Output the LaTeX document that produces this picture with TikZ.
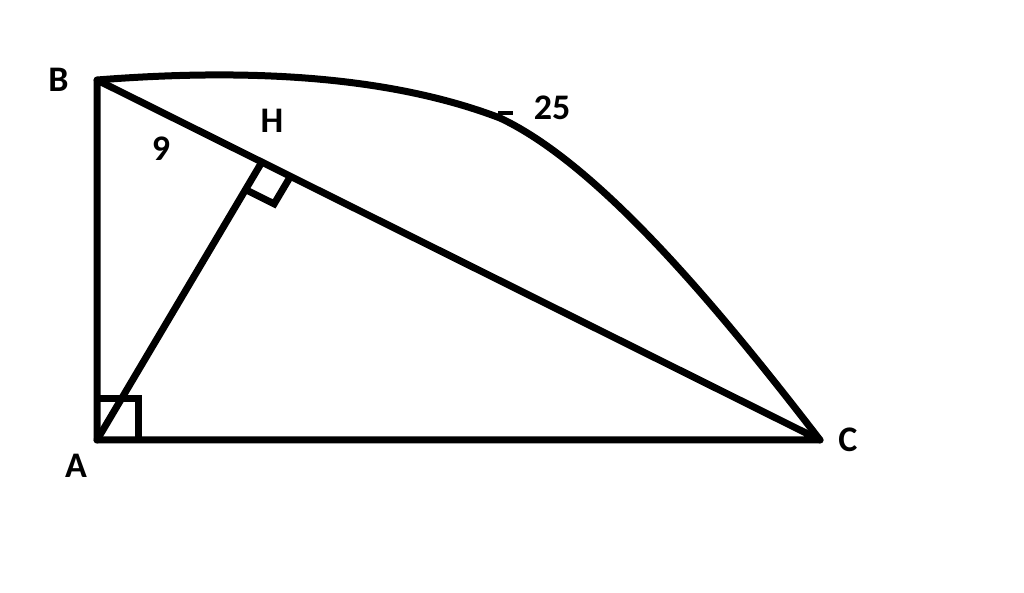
\documentclass[tikz,border=0pt]{standalone}
\usepackage{fontspec}
\setmainfont{Carlito}
\usetikzlibrary{positioning, calc}

\begin{document}
\begin{tikzpicture}[x=0.5pt, y=-0.5pt,
    lado/.style={line width=3.5pt, line cap=round, line join=round},
    marca/.style={line width=3.5pt, line join=miter},
    etiqueta/.style={font=\bfseries\fontsize{18}{20}\selectfont, inner sep=0pt}]
    \useasboundingbox (0,0) rectangle (1024,593);

    % puntos
    \coordinate (B) at (97,80);
    \coordinate (A) at (97,440);
    \coordinate (C) at (820,440);
    \coordinate (H) at ($(B)!0.228!(C)$);
    \coordinate (M) at (500,118);

    % lados
    \draw [lado] (A) -- (B) -- (C) -- cycle;
    \draw [lado] (A) -- (H);
    \draw [lado] (B) .. controls (250,68) and (390,76) .. (M)
                     .. controls (600,165) and (720,310) .. (C);
    \draw [line width=2pt] (M) ++(-2,-5) -- ++(15,0);

    % angulos rectos
    \draw [marca] ($(A)+(0,-41)$) -- ++(41,0) -- ++(0,41);
    \draw [marca] ($(H)!16pt!(A)$) -- ($(H)!16pt!(A)+(H)!16pt!(C)-(H)$) -- ($(H)!16pt!(C)$);

    % etiquetas
    \node [etiqueta, left=14pt of B] (lB) {B};
    \node [etiqueta] (lH) at (272,121) {H};
    \node [etiqueta] (l9) at (161,149) {9};
    \node [etiqueta] (l25) at (552,108) {25};
    \node [etiqueta] (lA) at (76,466) {A};
    \node [etiqueta, right=9pt of C] (lC) {C};
\end{tikzpicture}
\end{document}
